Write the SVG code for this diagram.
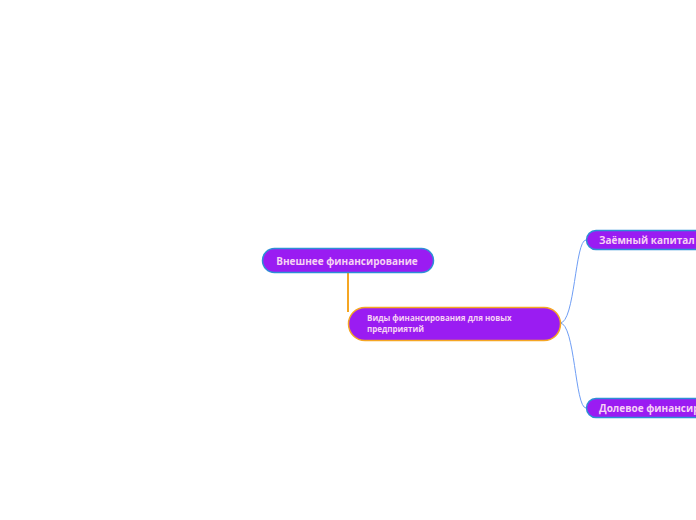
<svg xmlns="http://www.w3.org/2000/svg" width="696" height="520" viewBox="0 0 696 520">
<style>
.node{fill:#9a1cf2;stroke-width:1.5}
.blue{stroke:#2d8fd6}
.orange{stroke:#f5a623}
.t{font-family:"Open Sans","Noto Sans",sans-serif;font-weight:bold;fill:#f6d2f4}
.c{fill:none;stroke-width:1}
</style>
<rect width="696" height="520" fill="#ffffff"/>
<g id="connectors">
<path d="M348 272 V312" fill="none" stroke="#f5a623" stroke-width="2"/>
<path class="c" d="M560 323 C575 323 575 240 586 240" stroke="#6f9ef5"/>
<path class="c" d="M560 323 C575 323 575 408 586 408" stroke="#6f9ef5"/>
</g>
<g id="node-external">
<rect class="node blue" x="262.5" y="248.5" width="171" height="24" rx="12"/>
<text class="t" x="347" y="264.5" font-size="10" text-anchor="middle">Внешнее финансирование</text>
</g>
<g id="node-types">
<rect class="node orange" x="348.5" y="307.5" width="212" height="33" rx="16.5"/>
<text class="t" font-size="8"><tspan x="367" y="321">Виды финансирования для новых</tspan><tspan x="367" y="332">предприятий</tspan></text>
</g>
<g id="node-debt">
<rect class="node blue" x="586.5" y="230.5" width="130" height="19" rx="9.5"/>
<text class="t" x="599" y="244" font-size="10">Заёмный капитал</text>
</g>
<g id="node-equity">
<rect class="node blue" x="586.5" y="398.5" width="180" height="19" rx="9.5"/>
<text class="t" x="599" y="412" font-size="10">Долевое финансирование</text>
</g>
</svg>
